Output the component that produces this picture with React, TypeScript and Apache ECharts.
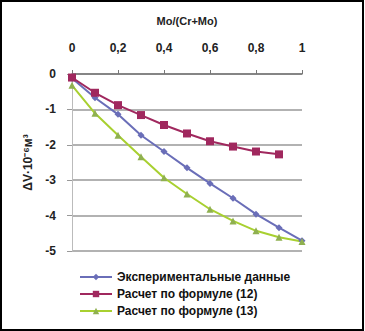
import React, { useEffect, useRef } from "react";
import * as echarts from "echarts";

const xValues = [0, 0.1, 0.2, 0.3, 0.4, 0.5, 0.6, 0.7, 0.8, 0.9, 1.0];
const experimental = [-0.12, -0.67, -1.14, -1.73, -2.19, -2.65, -3.09, -3.51, -3.96, -4.34, -4.71];
const formula12 = [-0.1, -0.53, -0.88, -1.16, -1.44, -1.68, -1.9, -2.05, -2.19, -2.27];
const formula13 = [-0.32, -1.11, -1.73, -2.34, -2.93, -3.39, -3.82, -4.15, -4.43, -4.61, -4.73];
const seriesNames = [
  "Экспериментальные данные",
  "Расчет по формуле (12)",
  "Расчет по формуле (13)",
];
const xAxisTitle = "Mo/(Cr+Mo)";
const yAxisTitle = "ΔV·10⁻⁶м³";

const font = "'Liberation Sans', Arial, sans-serif";

export default function App() {
  const ref = useRef<HTMLDivElement>(null);
  useEffect(() => {
    if (!ref.current) return;
    const chart = echarts.init(ref.current, undefined, { renderer: "svg" });
    const pair = (ys: number[]) => ys.map((y, i) => [xValues[i], y]);
    chart.setOption({
      animation: false,
      backgroundColor: "#fff",
      grid: { left: 72, right: 63, top: 74, bottom: 80 },
      xAxis: {
        type: "value",
        position: "top",
        min: 0,
        max: 1,
        interval: 0.2,
        name: xAxisTitle,
        nameLocation: "middle",
        nameGap: 48,
        nameTextStyle: { fontFamily: font, fontSize: 11, fontWeight: "bold", color: "#222" },
        axisLine: { show: true, lineStyle: { color: "#777", width: 1.5 } },
        axisTick: { show: true, length: 4, lineStyle: { color: "#777" } },
        axisLabel: {
          margin: 20,
          fontFamily: font,
          fontSize: 12,
          fontWeight: "bold",
          color: "#222",
          formatter: (v: number) => String(Math.round(v * 10) / 10).replace(".", ","),
        },
        splitLine: { show: false },
      },
      yAxis: {
        type: "value",
        min: -5,
        max: 0,
        interval: 1,
        name: yAxisTitle,
        nameLocation: "middle",
        nameRotate: 90,
        nameGap: 38,
        nameTextStyle: { fontFamily: font, fontSize: 12, fontWeight: "bold", color: "#222" },
        axisLine: { show: true, onZero: false, lineStyle: { color: "#bbb", width: 1 } },
        axisTick: { show: true, length: 5, lineStyle: { color: "#999" } },
        axisLabel: {
          margin: 16,
          fontFamily: font,
          fontSize: 12,
          fontWeight: "bold",
          color: "#222",
        },
        splitLine: { show: true, lineStyle: { color: "#999", width: 1.5 } },
      },
      legend: {
        orient: "vertical",
        left: 74,
        top: 266,
        itemWidth: 32,
        itemHeight: 8,
        itemGap: 5,
        textStyle: { fontFamily: font, fontSize: 12, fontWeight: "bold", color: "#111" },
        data: seriesNames,
      },
      series: [
        {
          name: seriesNames[0],
          type: "line",
          data: pair(experimental),
          symbol: "diamond",
          symbolSize: 7,
          lineStyle: { color: "#6A6EB8", width: 2 },
          itemStyle: { color: "#6A6EB8" },
        },
        {
          name: seriesNames[1],
          type: "line",
          data: pair(formula12),
          symbol: "rect",
          symbolSize: 8,
          lineStyle: { color: "#A0285E", width: 2 },
          itemStyle: { color: "#A0285E" },
        },
        {
          name: seriesNames[2],
          type: "line",
          data: pair(formula13),
          symbol: "triangle",
          symbolSize: 7,
          lineStyle: { color: "#A8D030", width: 2 },
          itemStyle: { color: "#8FB050" },
        },
      ],
      graphic: [
        {
          type: "rect",
          shape: { x: 1, y: 1, width: 362, height: 329 },
          style: { fill: "none", stroke: "#000", lineWidth: 2 },
          silent: true,
        },
      ],
    });
    return () => chart.dispose();
  }, []);
  return (
    <div
      ref={ref}
      style={{ position: "fixed", left: 0, top: 0, width: 365, height: 331 }}
    />
  );
}
